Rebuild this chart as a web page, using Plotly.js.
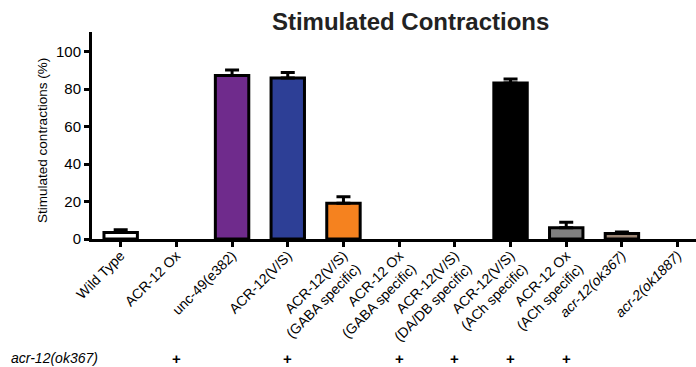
<!DOCTYPE html>
<html>
<head>
<meta charset="utf-8">
<script src="https://cdn.plot.ly/plotly-3.0.1.min.js"></script>
<style>html,body{margin:0;padding:0;background:#fff;}#chart{width:696px;height:367px;}</style>
</head>
<body>
<div id="chart"></div>
<script>
var categories = ["Wild Type","ACR-12 Ox","unc-49(e382)","ACR-12(V/S)","ACR-12(V/S)<br>(GABA specific)","ACR-12 Ox<br>(GABA specific)","ACR-12(V/S)<br>(DA/DB specific)","ACR-12(V/S)<br>(ACh specific)","ACR-12 Ox<br>(ACh specific)","<i>acr-12(ok367)</i>","<i>acr-2(ok1887)</i>"];
var values = [3.5, 0, 87.3, 85.9, 19.1, 0, 0, 83.3, 6.0, 3.0, 0];
var errors = [1.5, 0, 2.9, 3.0, 3.5, 0, 0, 2.1, 2.9, 0.8, 0];
var barColors = ["#ffffff","#ffffff","#6f2b8c","#2d3f96","#f5821f","#ffffff","#ffffff","#000000","#808080","#9c8574","#ffffff"];
var genotypeLabel = "<i>acr-12(ok367)</i>";
var genotypePlus = ["", "+", "", "+", "", "+", "+", "+", "+", "", ""];
var yTitle = "Stimulated contractions (%)";

var idx = categories.map(function(_, i){ return i; });
var FONT = "Liberation Sans, Arial, sans-serif";

var trace = {
  type: "bar",
  x: idx,
  y: values,
  width: 0.6,
  marker: {color: barColors, line: {color: "#000", width: values.map(function(v){ return v > 0 ? 3 : 0; })}},
  error_y: {type: "data", symmetric: false,
    array: errors.map(function(e){ return e > 0 ? e : NaN; }),
    arrayminus: errors.map(function(e){ return e > 0 ? 0 : NaN; }),
    color: "#000", thickness: 3, width: 7},
  hoverinfo: "none"
};

var annotations = [{
  text: genotypeLabel, xref: "paper", yref: "paper", x: -0.138, y: -0.575, xanchor: "left", yanchor: "middle",
  showarrow: false, font: {family: FONT, size: 14, color: "#000"}
}, {
  text: yTitle, xref: "paper", yref: "paper", x: -0.083, y: 0.478, xanchor: "center", yanchor: "middle",
  textangle: -90, showarrow: false, font: {family: FONT, size: 13.5, color: "#000"}
}];
genotypePlus.forEach(function(p, i){
  if (p) annotations.push({
    text: "<b>" + p + "</b>", xref: "x", yref: "paper", x: i, y: -0.575, xanchor: "center", yanchor: "middle",
    showarrow: false, font: {family: FONT, size: 15, color: "#000"}
  });
});

var layout = {
  width: 696, height: 367,
  margin: {l: 92, r: 0, t: 32, b: 128, pad: 0},
  paper_bgcolor: "#fff", plot_bgcolor: "#fff",
  showlegend: false,
  title: {text: "<b>Stimulated Contractions</b>", x: 0.59, xanchor: "center", y: 0.94, yanchor: "middle",
          font: {family: FONT, size: 24, color: "#222"}},
  xaxis: {
    range: [-0.515, 10.33], tickmode: "array", tickvals: idx, ticktext: categories, tickangle: -45,
    showline: true, linecolor: "#000", linewidth: 3, ticks: "outside", ticklen: 5, tickwidth: 3, tickcolor: "#000",
    showgrid: false, zeroline: false, ticklabelstandoff: -5,
    tickfont: {family: FONT, size: 14, color: "#000"}
  },
  yaxis: {
    range: [0, 110.5], tickvals: [0,20,40,60,80,100],
    showline: true, linecolor: "#000", linewidth: 3, ticks: "outside", ticklen: 5, tickwidth: 3, tickcolor: "#000",
    showgrid: false, zeroline: false,
    tickfont: {family: FONT, size: 15, color: "#000"}
  },
  annotations: annotations
};

Plotly.newPlot("chart", [trace], layout, {displayModeBar: false, staticPlot: true});
</script>
</body>
</html>
